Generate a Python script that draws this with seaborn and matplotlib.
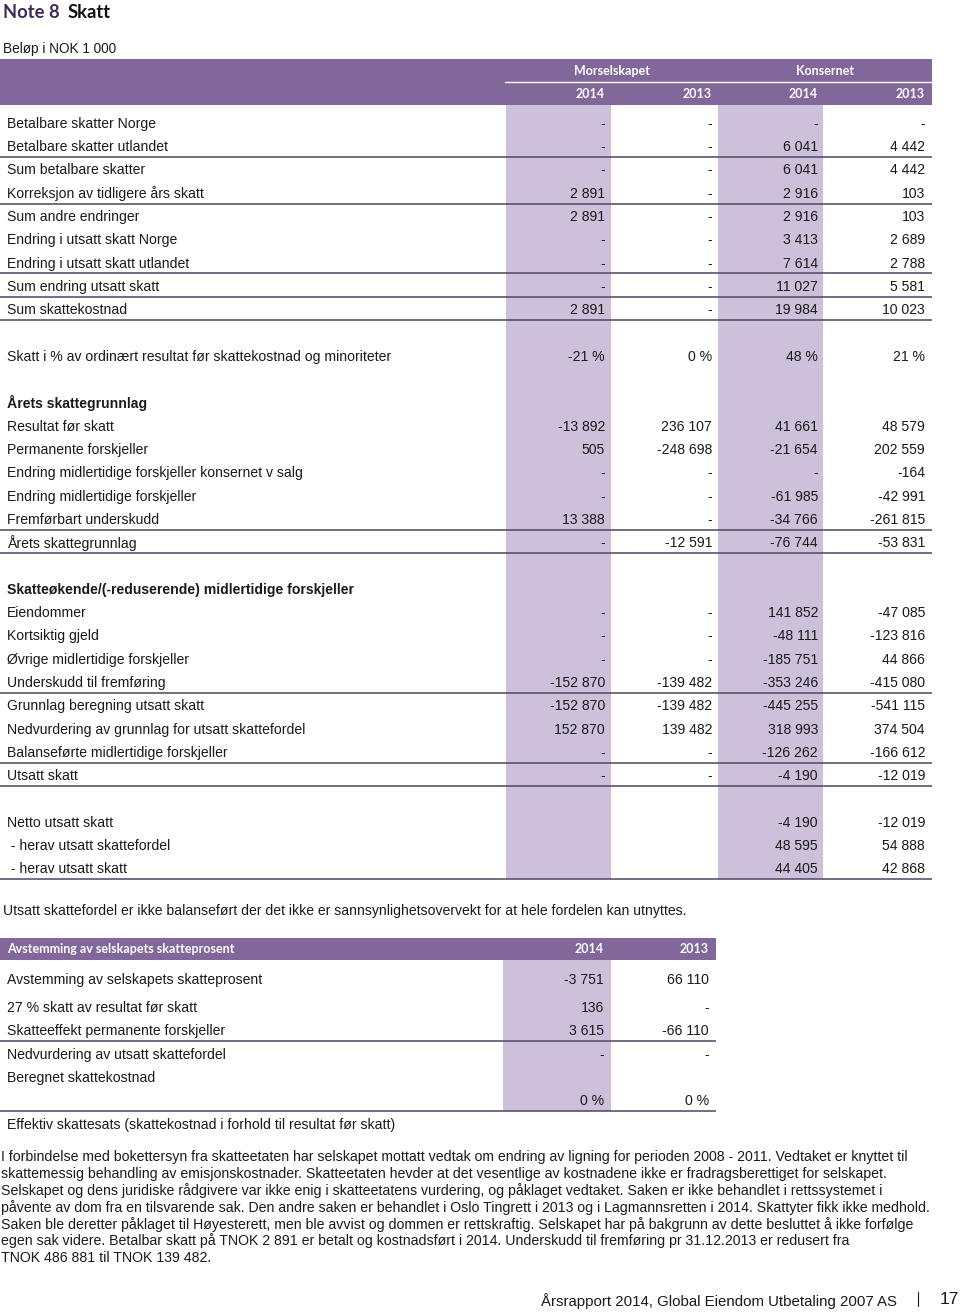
import matplotlib
matplotlib.use("Agg")
import matplotlib.pyplot as plt
from matplotlib.patches import Rectangle
import seaborn as sns

# ---------------- data ----------------
title_note = "Note 8"
title_text = "Skatt"
unit_text = "Beløp i NOK 1 000"
group_labels = ["Morselskapet", "Konsernet"]
year_labels = ["2014", "2013", "2014", "2013"]

B = ""  # blank cell
main_labels = [
    "Betalbare skatter Norge", "Betalbare skatter utlandet", "Sum betalbare skatter",
    "Korreksjon av tidligere års skatt", "Sum andre endringer", "Endring i utsatt skatt Norge",
    "Endring i utsatt skatt utlandet", "Sum endring utsatt skatt", "Sum skattekostnad",
    "", "Skatt i % av ordinært resultat før skattekostnad og minoriteter", "",
    "Årets skattegrunnlag", "Resultat før skatt", "Permanente forskjeller",
    "Endring midlertidige forskjeller konsernet v salg", "Endring midlertidige forskjeller",
    "Fremførbart underskudd", "Årets skattegrunnlag", "",
    "Skatteøkende/(-reduserende) midlertidige forskjeller", "Eiendommer", "Kortsiktig gjeld",
    "Øvrige midlertidige forskjeller", "Underskudd til fremføring", "Grunnlag beregning utsatt skatt",
    "Nedvurdering av grunnlag for utsatt skattefordel", "Balanseførte midlertidige forskjeller",
    "Utsatt skatt", "", "Netto utsatt skatt", " - herav utsatt skattefordel", " - herav utsatt skatt",
]
mors_2014 = [None, None, None, 2891, 2891, None, None, None, 2891, B, -21, B,
             B, -13892, 505, None, None, 13388, None, B,
             B, None, None, None, -152870, -152870, 152870, None, None, B, B, B, B]
mors_2013 = [None, None, None, None, None, None, None, None, None, B, 0, B,
             B, 236107, -248698, None, None, None, -12591, B,
             B, None, None, None, -139482, -139482, 139482, None, None, B, B, B, B]
kons_2014 = [None, 6041, 6041, 2916, 2916, 3413, 7614, 11027, 19984, B, 48, B,
             B, 41661, -21654, None, -61985, -34766, -76744, B,
             B, 141852, -48111, -185751, -353246, -445255, 318993, -126262, -4190, B, -4190, 48595, 44405]
kons_2013 = [None, 4442, 4442, 103, 103, 2689, 2788, 5581, 10023, B, 21, B,
             B, 48579, 202559, -164, -42991, -261815, -53831, B,
             B, -47085, -123816, 44866, -415080, -541115, 374504, -166612, -12019, B, -12019, 54888, 42868]
pct_rows = [10]
bold_rows = [12, 20]
line_rows = [1, 3, 6, 7, 8, 17, 18, 24, 27, 28, 32]

note_text = ("Utsatt skattefordel er ikke balanseført der det ikke er sannsynlighetsovervekt "
             "for at hele fordelen kan utnyttes.")

rec_header = "Avstemming av selskapets skatteprosent"
rec_years = ["2014", "2013"]
rec_labels = ["Avstemming av selskapets skatteprosent", "27 % skatt av resultat før skatt",
              "Skatteeffekt permanente forskjeller", "Nedvurdering av utsatt skattefordel",
              "Beregnet skattekostnad", "",
              "Effektiv skattesats (skattekostnad i forhold til resultat før skatt)"]
rec_2014 = [-3751, 136, 3615, None, B, 0, B]
rec_2013 = [66110, None, -66110, None, B, 0, B]
rec_pct_rows = [5]
rec_line_rows = [2, 5]

paragraph = [
    "I forbindelse med bokettersyn fra skatteetaten har selskapet mottatt vedtak om endring av ligning for perioden 2008 - 2011. Vedtaket er knyttet til",
    "skattemessig behandling av emisjonskostnader. Skatteetaten hevder at det vesentlige av kostnadene ikke er fradragsberettiget for selskapet.",
    "Selskapet og dens juridiske rådgivere var ikke enig i skatteetatens vurdering, og påklaget vedtaket. Saken er ikke behandlet i rettssystemet i",
    "påvente av dom fra en tilsvarende sak. Den andre saken er behandlet i Oslo Tingrett i 2013 og i Lagmannsretten i 2014. Skattyter fikk ikke medhold.",
    "Saken ble deretter påklaget til Høyesterett, men ble avvist og dommen er rettskraftig. Selskapet har på bakgrunn av dette besluttet å ikke forfølge",
    "egen sak videre. Betalbar skatt på TNOK 2 891 er betalt og kostnadsført i 2014. Underskudd til fremføring pr 31.12.2013 er redusert fra",
    "TNOK 486 881 til TNOK 139 482.",
]
footer_text = "Årsrapport 2014, Global Eiendom Utbetaling 2007 AS"
page_no = "17"

# ---------------- style ----------------
sns.set_theme(style="white")
plt.rcParams["font.family"] = ["Liberation Sans", "DejaVu Sans"]

PURPLE = "#81679a"
LIGHT = "#ccc0da"
DARK = "#3d2b58"
LINEC = "#4e4462"
TXT = "#1a1a1a"
HFONT = ["Lato", "DejaVu Sans"]
FS = 10.1
DY = 1.8  # baseline nudge


def fmt(v, pct=False):
    if v is None:
        return "-"
    if v == "":
        return ""
    s = f"{abs(v):,}".replace(",", " ")
    s = ("-" if v < 0 else "") + s
    return s + " %" if pct else s


W, H = 960, 1313
fig = plt.figure(figsize=(W / 100, H / 100), dpi=100)
ax = fig.add_axes([0, 0, 1, 1])
ax.set_xlim(0, W)
ax.set_ylim(H, 0)
ax.axis("off")

# title
ax.text(3, 13, title_note, fontsize=13.2, fontweight="bold", color=DARK, family=HFONT, va="center")
ax.text(68, 13, title_text, fontsize=13.2, fontweight="bold", color="#111111", family=HFONT, va="center")
ax.text(3, 47 + DY, unit_text, fontsize=9.8, color=TXT, va="center")

# main table geometry
TOP0, STEP = 122.0, 23.3
col_right = [605, 712, 818, 925]
col_spans = [(506, 611), (718, 823)]
TABLE_R = 932
row_y = lambda i: TOP0 + STEP * i
n = len(main_labels)
bottom = row_y(n - 1) + STEP / 2

ax.add_patch(Rectangle((0, 59), TABLE_R, 46, color=PURPLE, lw=0))
for x0, x1 in col_spans:
    ax.add_patch(Rectangle((x0, 105), x1 - x0, bottom - 105, color=LIGHT, lw=0))
ax.plot([505, TABLE_R], [82, 82], color="white", lw=1.0)
ax.text(612, 71, group_labels[0], fontsize=9, fontweight="bold", color="white", family=HFONT, ha="center", va="center")
ax.text(825, 71, group_labels[1], fontsize=9, fontweight="bold", color="white", family=HFONT, ha="center", va="center")
for xr, yl in zip(col_right, year_labels):
    ax.text(xr, 94, yl, fontsize=9, fontweight="bold", color="white", family=HFONT, ha="right", va="center")

for i, lab in enumerate(main_labels):
    y = row_y(i)
    ax.text(7, y + DY, lab, fontsize=FS, color=TXT, va="center",
            fontweight="bold" if i in bold_rows else "normal")
    pct = i in pct_rows
    for xr, col in zip(col_right, [mors_2014, mors_2013, kons_2014, kons_2013]):
        ax.text(xr, y + DY, fmt(col[i], pct), fontsize=FS, color=TXT, ha="right", va="center")
    if i in line_rows:
        ax.plot([0, TABLE_R], [y + STEP / 2, y + STEP / 2], color=LINEC, lw=1.1, solid_capstyle="butt")

ax.text(3, 909 + DY, note_text, fontsize=FS, color=TXT, va="center")

# reconciliation table
R_R = 716
r_cols = [604, 709]
ax.add_patch(Rectangle((0, 938), R_R, 22, color=PURPLE, lw=0))
ax.text(7, 949, rec_header, fontsize=9, fontweight="bold", color="white", family=HFONT, va="center")
for xr, yl in zip(r_cols, rec_years):
    ax.text(xr, 949, yl, fontsize=9, fontweight="bold", color="white", family=HFONT, ha="right", va="center")
r_y = [978] + [1006 + 23.4 * k for k in range(len(rec_labels) - 1)]
r_bottom = r_y[5] + 11.7
ax.add_patch(Rectangle((503, 960), 108, r_bottom - 960, color=LIGHT, lw=0))
for i, lab in enumerate(rec_labels):
    y = r_y[i]
    ax.text(7, y + DY, lab, fontsize=FS, color=TXT, va="center")
    pct = i in rec_pct_rows
    for xr, col in zip(r_cols, [rec_2014, rec_2013]):
        ax.text(xr, y + DY, fmt(col[i], pct), fontsize=FS, color=TXT, ha="right", va="center")
    if i in rec_line_rows:
        yl = y + 11.5
        ax.plot([0, R_R], [yl, yl], color=LINEC, lw=1.1, solid_capstyle="butt")

# paragraph
for k, line in enumerate(paragraph):
    ax.text(1, 1156 + 16.8 * k + 1, line, fontsize=10.2, color=TXT, va="center")

# footer
ax.text(897, 1301, footer_text, fontsize=10.8, color=TXT, ha="right", va="center")
ax.plot([918, 918], [1292, 1306], color=TXT, lw=0.8)
ax.text(959, 1300, page_no, fontsize=12.5, color=TXT, ha="right", va="center")

fig.savefig("out.png", dpi=100)
